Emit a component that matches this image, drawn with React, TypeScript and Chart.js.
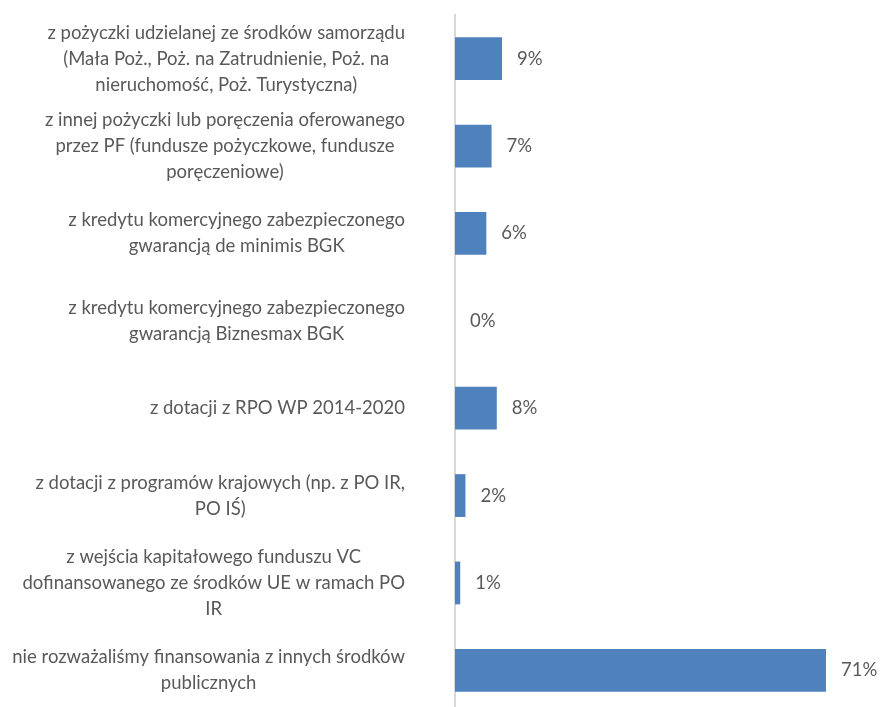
import React, { useEffect, useRef } from "react";
import { Chart, registerables } from "chart.js";

Chart.register(...registerables);

const categories: string[][] = [
  ["z pożyczki udzielanej ze środków samorządu", "(Mała Poż., Poż. na Zatrudnienie, Poż. na", "nieruchomość, Poż. Turystyczna)"],
  ["z innej pożyczki lub poręczenia oferowanego", "przez PF (fundusze pożyczkowe, fundusze", "poręczeniowe)"],
  ["z kredytu komercyjnego zabezpieczonego", "gwarancją de minimis BGK"],
  ["z kredytu komercyjnego zabezpieczonego", "gwarancją Biznesmax BGK"],
  ["z dotacji z RPO WP 2014-2020"],
  ["z dotacji z programów krajowych (np. z PO IR,", "PO IŚ)"],
  ["z wejścia kapitałowego funduszu VC", "dofinansowanego ze środków UE w ramach PO", "IR"],
  ["nie rozważaliśmy finansowania z innych środków", "publicznych"],
];
const values: number[] = [9, 7, 6, 0, 8, 2, 1, 71];

const FONT = "Lato";
const TEXT_COLOR = "#595959";

export default function App() {
  const ref = useRef<HTMLCanvasElement | null>(null);
  useEffect(() => {
    if (!ref.current) return;
    const labelPlugin = {
      id: "labels",
      afterDraw(chart: any) {
        const ctx = chart.ctx;
        const y = chart.scales.y;
        ctx.save();
        ctx.font = `18.5px ${FONT}`;
        ctx.fillStyle = TEXT_COLOR;
        ctx.textAlign = "center";
        ctx.textBaseline = "middle";
        const right = chart.chartArea.left - 50;
        const lh = 26;
        categories.forEach((lines, i) => {
          const cy = y.getPixelForValue(i);
          const maxW = Math.max(...lines.map((l) => ctx.measureText(l).width));
          const cx = right - maxW / 2;
          lines.forEach((l, j) => {
            ctx.fillText(l, cx, cy + (j - (lines.length - 1) / 2) * lh);
          });
        });
        const meta = chart.getDatasetMeta(0);
        ctx.textAlign = "left";
        meta.data.forEach((bar: any, i: number) => {
          ctx.fillText(`${values[i]}%`, bar.x + 15, bar.y);
        });
        ctx.restore();
      },
    };
    const chart = new Chart(ref.current, {
      type: "bar",
      data: {
        labels: categories.map((c) => c.join(" ")),
        datasets: [
          {
            data: values.map((v) => v / 100),
            backgroundColor: "#4F81BD",
            barPercentage: 0.7,
            categoryPercentage: 0.7,
          },
        ],
      },
      options: {
        indexAxis: "y",
        animation: false,
        responsive: false,
        layout: { padding: { top: 15, right: 7, bottom: 2, left: 0 } },
        plugins: { legend: { display: false }, tooltip: { enabled: false } },
        scales: {
          x: { display: false, min: 0, max: 0.8 },
          y: {
            ticks: { display: false },
            grid: { display: false },
            border: { display: true, color: "#d9d9d9", width: 2 },
            afterFit: (s: any) => {
              s.width = 455;
            },
          },
        },
      },
      plugins: [labelPlugin],
    });
    return () => chart.destroy();
  }, []);
  return (
    <div style={{ position: "fixed", left: 0, top: 0, width: 880, height: 716 }}>
      <canvas ref={ref} width={880} height={716} style={{ display: "block" }} />
    </div>
  );
}
